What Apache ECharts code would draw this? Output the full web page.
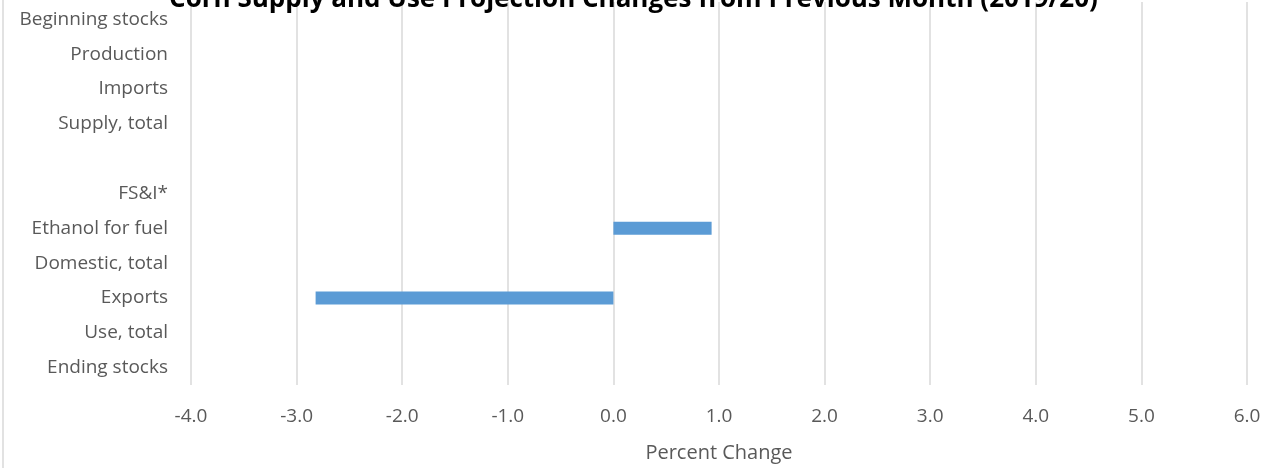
<!DOCTYPE html>
<html><head><meta charset="utf-8">
<script src="https://cdn.jsdelivr.net/npm/echarts@6/dist/echarts.min.js"></script>
<style>html,body{margin:0;padding:0;background:#fff}#chart{width:1267px;height:468px}</style>
</head><body><div id="chart"></div>
<script>
// categories listed top to bottom
var categories = ['Beginning stocks', 'Production', 'Imports', 'Supply, total', '', 'FS&I*', 'Ethanol for fuel', 'Domestic, total', 'Exports', 'Use, total', 'Ending stocks'];
var changes = [0, 0, 0, 0, null, 0, 0.93, 0, -2.82, 0, 0];

var font = "'Open Sans', sans-serif";
var option = {
    animation: false,
    title: {
        text: 'Corn Supply and Use Projection Changes from Previous Month (2019/20)',
        left: 'center',
        top: -18,
        textStyle: { fontFamily: font, fontSize: 26, fontWeight: 'bold', color: '#000' }
    },
    grid: { left: 191, right: 20, top: 2, bottom: 79 },
    xAxis: {
        type: 'value',
        min: -4, max: 6, interval: 1,
        name: 'Percent Change', nameLocation: 'middle', nameGap: 58,
        nameTextStyle: { fontFamily: font, fontSize: 20, color: '#595959' },
        axisLabel: {
            fontFamily: font, fontSize: 19, color: '#595959', margin: 22,
            formatter: function (v) { return v.toFixed(1); }
        },
        axisLine: { show: false },
        axisTick: { show: false },
        splitLine: { lineStyle: { color: '#d9d9d9', width: 1.5 } }
    },
    yAxis: {
        type: 'category',
        data: categories,
        inverse: true,
        axisLabel: { fontFamily: font, fontSize: 19, color: '#595959', margin: 23 },
        axisLine: { show: false },
        axisTick: { show: false }
    },
    series: [{
        type: 'bar',
        data: changes,
        barWidth: 13,
        itemStyle: { color: '#5b9bd5' }
    }],
    graphic: [{
        type: 'line',
        shape: { x1: 3, y1: 0, x2: 3, y2: 468 },
        style: { stroke: '#d9d9d9', lineWidth: 1.5 }
    }]
};
var myChart = echarts.init(document.querySelector('#chart'));
myChart.setOption(option);
</script></body></html>
